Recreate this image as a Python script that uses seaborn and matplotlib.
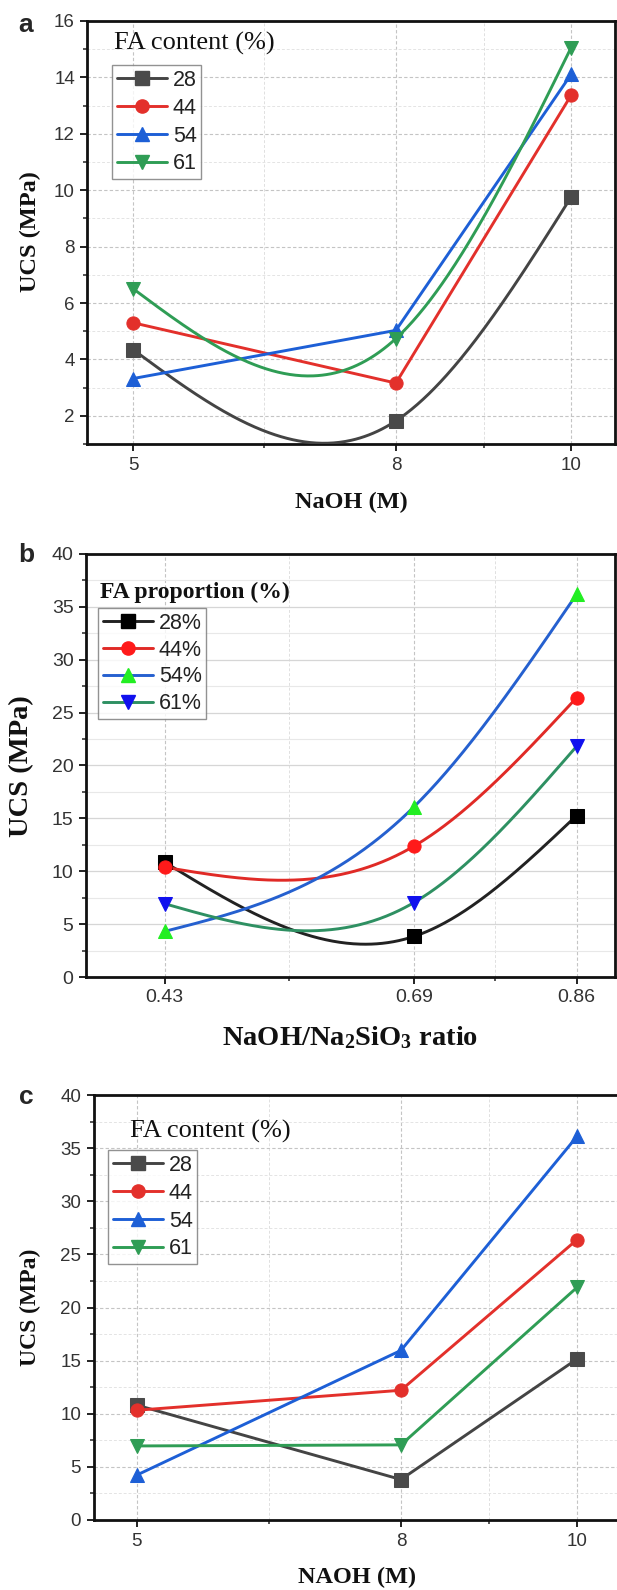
import numpy as np
import matplotlib
matplotlib.use("Agg")
import matplotlib.pyplot as plt
from matplotlib.lines import Line2D
from matplotlib.ticker import FixedLocator
import seaborn as sns

# ---------------- data ----------------
naoh_m = [5, 8, 10]
ratio = [0.43, 0.69, 0.86]
fa_labels = ["28", "44", "54", "61"]
fa_labels_pct = ["28%", "44%", "54%", "61%"]

ucs_a_28 = [4.35, 1.82, 9.76]
ucs_a_44 = [5.30, 3.16, 13.37]
ucs_a_54 = [3.32, 5.03, 14.11]
ucs_a_61 = [6.51, 4.74, 15.06]

ucs_b_28 = [10.86, 3.83, 15.27]
ucs_b_44 = [10.38, 12.36, 26.42]
ucs_b_54 = [4.31, 16.07, 36.20]
ucs_b_61 = [6.93, 7.03, 21.82]

ucs_c_28 = [10.81, 3.81, 15.15]
ucs_c_44 = [10.33, 12.21, 26.38]
ucs_c_54 = [4.23, 15.96, 36.10]
ucs_c_61 = [6.97, 7.07, 21.89]

xticks_a = [5, 8, 10]
xminor_a = [6.5, 9]
xticks_b = [0.43, 0.69, 0.86]
xminor_b = [0.56, 0.775]

# ---------------- style ----------------
sns.set_style("ticks")
plt.rcParams["font.family"] = ["Liberation Sans", "DejaVu Sans"]
plt.rcParams["mathtext.fontset"] = "custom"
plt.rcParams["mathtext.rm"] = "Liberation Serif:bold"
plt.rcParams["mathtext.it"] = "Liberation Serif:bold"
plt.rcParams["mathtext.bf"] = "Liberation Serif:bold"
plt.rcParams["mathtext.default"] = "rm"

SERIF = ["Liberation Serif", "DejaVu Serif"]
W, H = 617, 1590
fig = plt.figure(figsize=(W / 100, H / 100), dpi=100)
fig.patch.set_facecolor("white")


def fx(px):
    return px / W


def fy(py):
    return 1 - py / H


def make_ax(l, t, r, b):
    return fig.add_axes([fx(l), fy(b), (r - l) / W, (b - t) / H])


def natural_spline(x, y, n=300):
    x = np.asarray(x, float)
    y = np.asarray(y, float)
    k = len(x)
    h = np.diff(x)
    A = np.zeros((k, k))
    rhs = np.zeros(k)
    A[0, 0] = 1
    A[-1, -1] = 1
    for i in range(1, k - 1):
        A[i, i - 1] = h[i - 1]
        A[i, i] = 2 * (h[i - 1] + h[i])
        A[i, i + 1] = h[i]
        rhs[i] = 6 * ((y[i + 1] - y[i]) / h[i] - (y[i] - y[i - 1]) / h[i - 1])
    M = np.linalg.solve(A, rhs)
    xs = np.linspace(x[0], x[-1], n)
    idx = np.clip(np.searchsorted(x, xs, side="right") - 1, 0, k - 2)
    x0, x1, hh = x[idx], x[idx + 1], h[idx]
    ys = (M[idx] * (x1 - xs) ** 3 / (6 * hh) + M[idx + 1] * (xs - x0) ** 3 / (6 * hh)
          + (y[idx] / hh - M[idx] * hh / 6) * (x1 - xs)
          + (y[idx + 1] / hh - M[idx + 1] * hh / 6) * (xs - x0))
    return xs, ys


LW = 2.1
MS = 9.5


def draw_series(ax, x, y, lc, marker, mfc, spline):
    if spline:
        xs, ys = natural_spline(x, y)
        sns.lineplot(x=xs, y=ys, ax=ax, color=lc, lw=LW, sort=False,
                     estimator=None, zorder=3)
        sns.lineplot(x=x, y=y, ax=ax, color=lc, lw=0, marker=marker,
                     markersize=MS, markerfacecolor=mfc, markeredgecolor=mfc,
                     estimator=None, zorder=4)
    else:
        sns.lineplot(x=x, y=y, ax=ax, color=lc, lw=LW, marker=marker,
                     markersize=MS, markerfacecolor=mfc, markeredgecolor=mfc,
                     estimator=None, zorder=3)


def style_axes(ax, xlim, ylim, xt, xm, yt, ym, xtl, hgrid_solid=False, tsize=13.5):
    ax.set_xlim(*xlim)
    ax.set_ylim(*ylim)
    ax.xaxis.set_major_locator(FixedLocator(xt))
    ax.xaxis.set_minor_locator(FixedLocator(xm))
    ax.set_xticklabels(xtl)
    ax.yaxis.set_major_locator(FixedLocator(yt))
    ax.yaxis.set_minor_locator(FixedLocator(ym))
    for s in ax.spines.values():
        s.set_linewidth(2.0)
        s.set_color("#111111")
    ax.tick_params(which="major", direction="out", length=5, width=1.3,
                   labelsize=tsize, colors="#111111", labelcolor="#333333",
                   top=False, right=False, pad=4)
    ax.tick_params(which="minor", direction="out", length=3, width=1.1,
                   top=False, right=False)
    ax.xaxis.grid(True, which="major", ls=(0, (3, 2)), color="#c4c4c4", lw=0.8)
    ax.xaxis.grid(True, which="minor", ls=(0, (3, 2)), color="#e0e0e0", lw=0.7)
    if hgrid_solid:
        ax.yaxis.grid(True, which="major", ls="-", color="#d6d6d6", lw=0.9)
        ax.yaxis.grid(True, which="minor", ls="-", color="#e8e8e8", lw=0.8)
    else:
        ax.yaxis.grid(True, which="major", ls=(0, (3, 2)), color="#c4c4c4", lw=0.8)
        ax.yaxis.grid(True, which="minor", ls=(0, (3, 2)), color="#e4e4e4", lw=0.7)
    ax.set_axisbelow(True)


def set_labels(ax, xlabel, ylabel, xl_y, yl_px, xsize, ysize, box):
    l, t, r, b = box
    ax.set_xlabel(xlabel, family=SERIF, fontweight="bold", fontsize=xsize, color="#111111")
    ax.set_ylabel(ylabel, family=SERIF, fontweight="bold", fontsize=ysize, color="#111111")
    ax.xaxis.label.set_verticalalignment("center")
    ax.yaxis.label.set_verticalalignment("center")
    ax.xaxis.set_label_coords(0.5, (b - xl_y) / (b - t))
    ax.yaxis.set_label_coords((yl_px[0] - l) / (r - l), (b - yl_px[1]) / (b - t))


def add_legend(ax, handles, labels, box_tl, title, title_xy, title_bold, title_size,
               fsize, labelspacing):
    leg = ax.legend(handles, labels, loc="upper left",
                    bbox_to_anchor=(fx(box_tl[0]), fy(box_tl[1])),
                    bbox_transform=fig.transFigure, borderaxespad=0,
                    frameon=True, fancybox=False, edgecolor="#777777",
                    fontsize=fsize, handlelength=2.35, handletextpad=0.25,
                    borderpad=0.22, labelspacing=labelspacing)
    leg.get_frame().set_linewidth(1.0)
    for tx in leg.get_texts():
        tx.set_color("#222222")
    fig.text(fx(title_xy[0]), fy(title_xy[1]), title, family=SERIF,
             fontweight="bold" if title_bold else "normal",
             fontsize=title_size, ha="left", va="center", color="#111111")


def handle(lc, marker, mfc):
    return Line2D([], [], color=lc, lw=LW, marker=marker, markersize=MS,
                  markerfacecolor=mfc, markeredgecolor=mfc)


GRAY, RED, BLUE, GREEN = "#444444", "#e3302b", "#1d5fd6", "#2f9d55"
GRAYM = "#4a4a4a"
markers = ["s", "o", "^", "v"]

# ---------------- panel a ----------------
box_a = (87.4, 21, 615, 444)
ax_a = make_ax(*box_a)
series_a = [ucs_a_28, ucs_a_44, ucs_a_54, ucs_a_61]
colors_a = [GRAY, RED, BLUE, GREEN]
spl_a = [True, False, False, True]
for yv, c, m, s in zip(series_a, colors_a, markers, spl_a):
    draw_series(ax_a, naoh_m, yv, c, m, GRAYM if c == GRAY else c, s)
style_axes(ax_a, (4.48, 10.5), (1, 16), xticks_a, xminor_a,
           list(range(2, 17, 2)), list(range(1, 16, 2)), [str(v) for v in xticks_a])
set_labels(ax_a, "NaOH (M)", "UCS (MPa)", 502, (30, 232), 17.5, 17.5, box_a)
add_legend(ax_a, [handle(c, m, GRAYM if c == GRAY else c) for c, m in zip(colors_a, markers)],
           fa_labels, (112, 65), "FA content (%)", (114, 43), False, 19, 15.5, 0.32)
fig.text(fx(26), fy(25), "a", fontsize=19, fontweight="bold", ha="center", va="center")

# ---------------- panel b ----------------
box_b = (86, 554, 615, 977)
ax_b = make_ax(*box_b)
series_b = [ucs_b_28, ucs_b_44, ucs_b_54, ucs_b_61]
lc_b = ["#222222", "#e02a26", "#2560cf", "#2e9062"]
mc_b = ["#000000", "#ff1a1a", "#22ee22", "#1010ee"]
for yv, c, m, mc in zip(series_b, lc_b, markers, mc_b):
    draw_series(ax_b, ratio, yv, c, m, mc, True)
style_axes(ax_b, (0.348, 0.90), (0, 40), xticks_b, xminor_b,
           list(range(0, 41, 5)), list(np.arange(2.5, 40, 5)),
           ["%.2f" % v for v in xticks_b], hgrid_solid=True, tsize=14)
set_labels(ax_b, "NaOH/Na$_{2}$SiO$_{3}$ ratio", "UCS (MPa)", 1038, (22, 766),
           20.5, 20.5, box_b)
add_legend(ax_b, [handle(c, m, mc) for c, m, mc in zip(lc_b, markers, mc_b)],
           fa_labels_pct, (98, 608), "FA proportion (%)", (100, 592), True, 17, 15.5, 0.27)
fig.text(fx(26), fy(555), "b", fontsize=19, fontweight="bold", ha="center", va="center")

# ---------------- panel c ----------------
box_c = (93.7, 1095, 621, 1520)
ax_c = make_ax(*box_c)
series_c = [ucs_c_28, ucs_c_44, ucs_c_54, ucs_c_61]
for yv, c, m in zip(series_c, colors_a, markers):
    draw_series(ax_c, naoh_m, yv, c, m, GRAYM if c == GRAY else c, False)
style_axes(ax_c, (4.51, 10.5), (0, 40), xticks_a, xminor_a,
           list(range(0, 41, 5)), list(np.arange(2.5, 40, 5)), [str(v) for v in xticks_a])
set_labels(ax_c, "NAOH (M)", "UCS (MPa)", 1577, (30, 1307), 17.5, 17, box_c)
add_legend(ax_c, [handle(c, m, GRAYM if c == GRAY else c) for c, m in zip(colors_a, markers)],
           fa_labels, (108, 1150), "FA content (%)", (130, 1131), False, 19, 15.5, 0.32)
fig.text(fx(26), fy(1097), "c", fontsize=19, fontweight="bold", ha="center", va="center")

fig.savefig("out.png", dpi=100, facecolor="white")
